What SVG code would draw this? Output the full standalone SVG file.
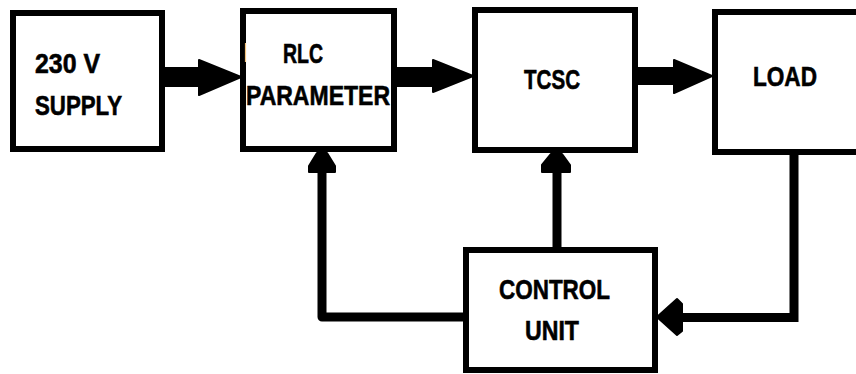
<svg xmlns="http://www.w3.org/2000/svg" width="856" height="374" viewBox="0 0 856 374">
  <style>
    .box { fill: #ffffff; stroke: #000000; stroke-width: 6; }
    .lbl { font-family: "Liberation Sans", Arial, sans-serif; font-weight: bold; font-size: 28px; fill: #000000; stroke: #000000; stroke-width: 0.6; }
    .wire { fill: none; stroke: #000000; stroke-width: 9; }
    .head { fill: #000000; stroke: #000000; stroke-width: 2; stroke-linejoin: round; }
    .bar { fill: #000000; }
  </style>
  <rect width="856" height="374" fill="#ffffff"/>

  <!-- connectors -->
  <g id="connectors">
    <!-- supply to RLC -->
    <rect class="bar" x="164" y="67" width="37" height="20"/>
    <polygon class="head" points="199,60 241,77 199,95"/>
    <!-- RLC to TCSC -->
    <rect class="bar" x="396" y="67" width="38" height="20"/>
    <polygon class="head" points="433,60 473,76 433,92"/>
    <!-- TCSC to load -->
    <rect class="bar" x="637" y="67" width="38" height="18"/>
    <polygon class="head" points="674,60 712,76 674,93"/>
    <!-- control unit to RLC -->
    <path class="wire" d="M463,317 H322 V171" stroke-linejoin="round"/>
    <polygon class="head" points="317,153 327,153 335,166 335,172 309,172 309,166"/>
    <!-- control unit to TCSC -->
    <path class="wire" d="M557,248 V171" stroke-width="8"/>
    <polygon class="head" points="551,154 562,154 570,165 570,172 542,172 542,165"/>
    <!-- load feedback to control unit -->
    <path class="wire" d="M794,154 V317.5 H678" stroke-width="8.5"/>
    <polygon class="head" points="657,317 677,299 682,304 682,331 677,335"/>
  </g>

  <g id="supply">
    <rect class="box" x="13" y="13" width="149" height="136"/>
    <text class="lbl" x="35" y="73" textLength="65" lengthAdjust="spacingAndGlyphs">230 V</text>
    <text class="lbl" x="35" y="115" textLength="87" lengthAdjust="spacingAndGlyphs">SUPPLY</text>
  </g>

  <g id="rlc">
    <rect class="box" x="243" y="11" width="151" height="138"/>
    <line x1="245.5" y1="43" x2="245.5" y2="62" stroke="#f3c27c" stroke-width="1.2"/>
    <text class="lbl" x="283" y="63" textLength="40" lengthAdjust="spacingAndGlyphs">RLC</text>
    <text class="lbl" x="246" y="105" textLength="144" lengthAdjust="spacingAndGlyphs">PARAMETER</text>
  </g>

  <g id="tcsc">
    <rect class="box" x="475" y="10" width="160" height="140"/>
    <text class="lbl" x="524" y="89" textLength="56" lengthAdjust="spacingAndGlyphs">TCSC</text>
  </g>

  <g id="load">
    <rect class="box" x="715" y="12" width="170" height="140"/>
    <text class="lbl" x="753" y="86" textLength="64" lengthAdjust="spacingAndGlyphs">LOAD</text>
  </g>

  <g id="control">
    <rect class="box" x="466" y="250" width="189" height="120"/>
    <text class="lbl" x="499" y="299" textLength="111" lengthAdjust="spacingAndGlyphs">CONTROL</text>
    <text class="lbl" x="525" y="340" textLength="54" lengthAdjust="spacingAndGlyphs">UNIT</text>
  </g>
</svg>
